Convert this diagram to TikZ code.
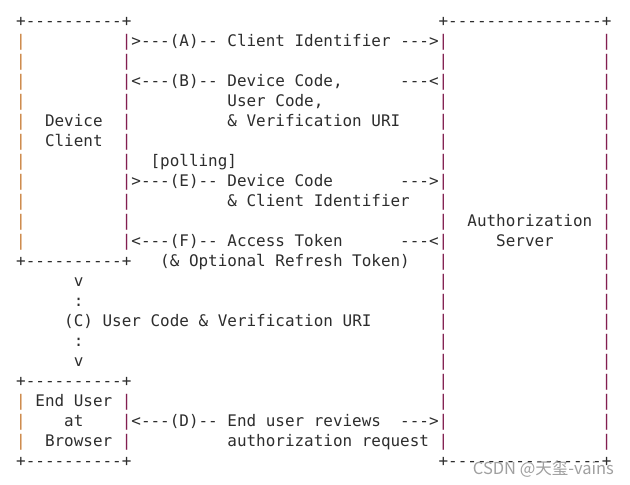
\documentclass[tikz,border=0pt]{standalone}
\usepackage{fontspec}
\setmonofont{DejaVu Sans Mono}
\newfontfamily\cjk{Noto Sans CJK SC}
\usetikzlibrary{positioning}
\definecolor{ink}{RGB}{45, 45, 45}
\definecolor{pipeorange}{RGB}{200, 125, 55}
\definecolor{pipeplum}{RGB}{130, 30, 80}
\definecolor{markgray}{RGB}{160, 160, 160}

\begin{document}
\begin{tikzpicture}[
            x=9.6pt, y=-20pt,
            txt/.style={anchor=base west, inner sep=0pt, text=ink, font=\ttfamily\fontsize{15.95}{20}\selectfont},
            pipeL/.style={txt, text=pipeorange},
            pipeR/.style={txt, text=pipeplum}
        ]
            \useasboundingbox[fill=white] (-1.6667,-1.325) rectangle (63.9583,22.925);

            % box edges
            \node[txt] (devtop) at (0,0) {+----------+};
            \node[txt] (srvtop) at (44,0) {+----------------+};
            \node[txt] (devbot) at (0,12) {+----------+};
            \node[txt] (brwtop) at (0,18) {+----------+};
            \node[txt] (brwbot) at (0,22) {+----------+};
            \node[txt] (srvbot) at (44,22) {+----------------+};
            \foreach \r in {1,...,11} {
                \node[pipeL] (devl\r) at (0,\r) {|};
                \node[pipeR] (devr\r) at (11,\r) {|};
            }
            \foreach \r in {19,20,21} {
                \node[pipeL] (brwl\r) at (0,\r) {|};
                \node[pipeR] (brwr\r) at (11,\r) {|};
            }
            \foreach \r in {1,...,21} {
                \node[pipeR] (srvl\r) at (44,\r) {|};
                \node[pipeR] (srvr\r) at (61,\r) {|};
            }

            % box names
            \node[txt] (device) at (3,5) {Device};
            \node[txt] (client) at (3,6) {Client};
            \node[txt] (authz) at (47,10) {Authorization};
            \node[txt] (server) at (50,11) {Server};
            \node[txt] (enduser) at (2,19) {End User};
            \node[txt] (at) at (5,20) {at};
            \node[txt] (browser) at (3,21) {Browser};

            % steps
            \node[txt] (stepA) at (12,1) {>---(A)-- Client Identifier --->};
            \node[txt] (stepB) at (12,3) {<---(B)-- Device Code,};
            \node[txt] (tipB) at (40,3) {---<};
            \node[txt] (stepB2) at (22,4) {User Code,};
            \node[txt] (stepB3) at (22,5) {\& Verification URI};
            \node[txt] (polling) at (14,7) {[polling]};
            \node[txt] (stepE) at (12,8) {>---(E)-- Device Code};
            \node[txt] (tipE) at (40,8) {--->};
            \node[txt] (stepE2) at (22,9) {\& Client Identifier};
            \node[txt] (stepF) at (12,11) {<---(F)-- Access Token};
            \node[txt] (tipF) at (40,11) {---<};
            \node[txt] (stepF2) at (15,12) {(\& Optional Refresh Token)};
            \node[txt] (vtop) at (6,13) {v};
            \node[txt] (dot1) at (6,14) {:};
            \node[txt] (stepC) at (5,15) {(C) User Code \& Verification URI};
            \node[txt] (dot2) at (6,16) {:};
            \node[txt] (vbot) at (6,17) {v};
            \node[txt] (stepD) at (12,20) {<---(D)-- End user reviews};
            \node[txt] (tipD) at (40,20) {--->};
            \node[txt] (stepD2) at (22,21) {authorization request};

            \node[anchor=base east, inner sep=0pt, text=markgray, font=\cjk\fontsize{16.5}{18}\selectfont] (mark) at (62.3,22.375) {CSDN @天玺-vains};
        \end{tikzpicture}
\end{document}
